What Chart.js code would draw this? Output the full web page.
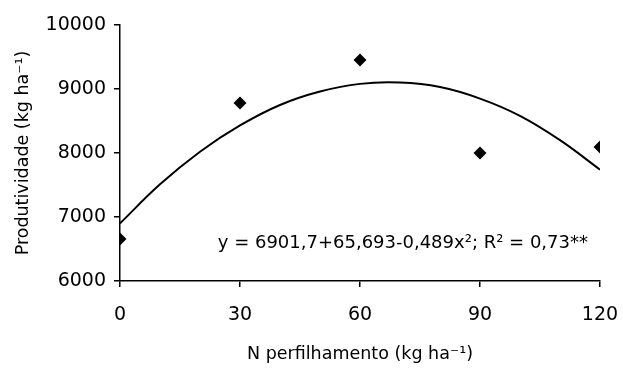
<!DOCTYPE html>
<html>
<head>
<meta charset="utf-8">
<script src="https://cdn.jsdelivr.net/npm/chart.js@4/dist/chart.umd.min.js"></script>
<style>
  html, body { margin: 0; padding: 0; background: #fff; }
  #wrap { width: 623px; height: 369px; }
</style>
</head>
<body>
<div id="wrap"><canvas id="chart" width="623" height="369"></canvas></div>
<script>
/* dados observados */
const doses      = [0, 30, 60, 90, 120];
const produtiv   = [6656, 8781, 9453, 8000, 8094];

/* curva ajustada */
const curvaX     = [0, 10, 20, 30, 40, 50, 60, 70, 80, 90, 100, 110, 120];
const curvaY     = [6900, 7510, 8020, 8430, 8750, 8960, 9080, 9100, 9030, 8850, 8580, 8200, 7740];

const xTicks     = [0, 30, 60, 90, 120];
const equacao    = 'y = 6901,7+65,693-0,489x\u00B2; R\u00B2 = 0,73**';

const FONT = '"DejaVu Sans", Verdana, sans-serif';

/* texto da equação dentro da área do gráfico */
const equationLabel = {
  id: 'equationLabel',
  afterDatasetsDraw(chart) {
    const { ctx, scales: { x, y } } = chart;
    ctx.save();
    ctx.font = `18px ${FONT}`;
    ctx.fillStyle = '#000';
    ctx.textAlign = 'right';
    ctx.textBaseline = 'middle';
    ctx.fillText(equacao, x.getPixelForValue(117), y.getPixelForValue(6594));
    ctx.restore();
  },
};

new Chart(document.getElementById('chart'), {
  data: {
    datasets: [
      {
        type: 'line',
        data: curvaX.map((v, i) => ({ x: v, y: curvaY[i] })),
        borderColor: '#000',
        borderWidth: 2,
        pointRadius: 0,
        tension: 0.4,
        fill: false,
      },
      {
        type: 'scatter',
        data: doses.map((v, i) => ({ x: v, y: produtiv[i] })),
        pointStyle: 'rectRot',
        pointRadius: 6.5,
        backgroundColor: '#000',
        borderWidth: 0,
      },
    ],
  },
  options: {
    responsive: false,
    animation: false,
    layout: { padding: { top: 25, right: 23, bottom: 2, left: 0 } },
    plugins: {
      legend:  { display: false },
      tooltip: { enabled: false },
    },
    scales: {
      x: {
        type: 'linear',
        min: 0,
        max: 120,
        afterBuildTicks: (s) => { s.ticks = xTicks.map((v) => ({ value: v })); },
        afterFit: (s) => { s.height = 86; s.paddingLeft = 0; s.paddingRight = 0; },
        border: { color: '#000', width: 1.5 },
        grid:  { drawOnChartArea: false, drawTicks: true, tickLength: 6, color: '#000', lineWidth: 1.5 },
        ticks: { color: '#000', font: { family: FONT, size: 19 }, padding: 17, maxRotation: 0 },
        title: {
          display: true,
          text: 'N perfilhamento (kg ha\u207B\u00B9)',
          color: '#000',
          font: { family: FONT, size: 17.5 },
          padding: { top: 0, bottom: 2 },
        },
      },
      y: {
        min: 6000,
        max: 10000,
        afterFit: (s) => { s.width = 120; },
        border: { color: '#000', width: 1.5 },
        grid:  { drawOnChartArea: false, drawTicks: true, tickLength: 6, color: '#000', lineWidth: 1.5 },
        ticks: {
          color: '#000',
          font: { family: FONT, size: 19 },
          stepSize: 1000,
          padding: 8,
          callback: (v) => String(v),
        },
        title: {
          display: true,
          text: 'Produtividade (kg ha\u207B\u00B9)',
          color: '#000',
          font: { family: FONT, size: 17.5 },
          padding: { top: 13, bottom: 0 },
        },
      },
    },
  },
  plugins: [equationLabel],
});
</script>
</body>
</html>
